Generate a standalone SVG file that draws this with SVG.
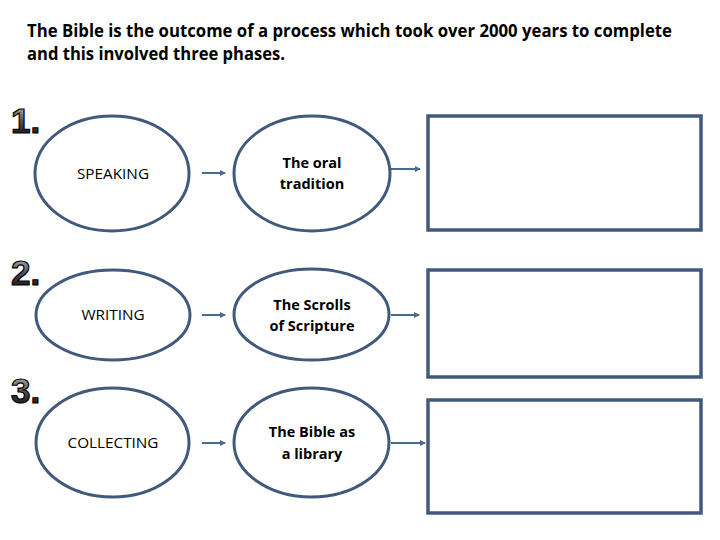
<svg xmlns="http://www.w3.org/2000/svg" width="720" height="540" viewBox="0 0 720 540">
<style>
.title{font-family:"Open Sans","Liberation Sans",sans-serif;font-weight:bold;font-size:17px;fill:#000}
.lbl{font-family:"Open Sans","Liberation Sans",sans-serif;font-size:15.3px;fill:#000;text-anchor:middle}
.lblb{font-family:"Open Sans","Liberation Sans",sans-serif;font-weight:bold;font-size:14.5px;fill:#000;text-anchor:middle}
.num{font-family:"Liberation Sans",Arial,sans-serif;font-weight:bold;font-size:35px;fill:url(#g);stroke:#000;stroke-width:1.2}
.node{fill:#fff;stroke:#41597c;stroke-width:3}
.box{fill:#fff;stroke:#41597c;stroke-width:3.5}
.conn{stroke:#4a6a94;stroke-width:2;fill:none;marker-end:url(#ah)}
</style>
<defs>
<linearGradient id="g" x1="0" y1="0" x2="0" y2="1">
<stop offset="0" stop-color="#d0d0d0"/>
<stop offset="0.5" stop-color="#555555"/>
<stop offset="1" stop-color="#000000"/>
</linearGradient>
<marker id="ah" markerWidth="6" markerHeight="6" refX="5" refY="3" orient="auto" markerUnits="userSpaceOnUse">
<path d="M0,0 L6,3 L0,6 Z" fill="#4a6a94"/>
</marker>
</defs>
<rect width="720" height="540" fill="#fff"/>
<g id="title">
<text class="title" x="27" y="37" textLength="645" lengthAdjust="spacingAndGlyphs">The Bible is the outcome of a process which took over 2000 years to complete</text>
<text class="title" x="27" y="60" textLength="258" lengthAdjust="spacingAndGlyphs">and this involved three phases.</text>
</g>
<g id="numbers">
<text class="num" x="11" y="133">1.</text>
<text class="num" x="11" y="285">2.</text>
<text class="num" x="11" y="403">3.</text>
</g>
<g id="connectors">
<line class="conn" x1="202" y1="173" x2="225" y2="173"/>
<line class="conn" x1="391" y1="169" x2="420" y2="169"/>
<line class="conn" x1="202" y1="315" x2="225" y2="315"/>
<line class="conn" x1="391" y1="315" x2="419" y2="315"/>
<line class="conn" x1="202" y1="443" x2="225" y2="443"/>
<line class="conn" x1="391" y1="443" x2="425" y2="443"/>
</g>
<g id="speaking"><ellipse class="node" cx="112" cy="173.5" rx="77" ry="57.5"/><text class="lbl" x="113" y="179">SPEAKING</text></g>
<g id="oral"><ellipse class="node" cx="312" cy="173.5" rx="78" ry="57.5"/><text class="lblb" x="312" y="168">The oral</text><text class="lblb" x="312" y="189">tradition</text></g>
<g id="box1"><rect class="box" x="428" y="116" width="273" height="114"/></g>
<g id="writing"><ellipse class="node" cx="113" cy="315" rx="77" ry="45"/><text class="lbl" x="113" y="320">WRITING</text></g>
<g id="scrolls"><ellipse class="node" cx="311.5" cy="314.5" rx="77.5" ry="45.5"/><text class="lblb" x="312" y="310">The Scrolls</text><text class="lblb" x="312" y="331">of Scripture</text></g>
<g id="box2"><rect class="box" x="428" y="270" width="273" height="107"/></g>
<g id="collecting"><ellipse class="node" cx="112.5" cy="442.5" rx="76.5" ry="54.5"/><text class="lbl" x="113" y="448">COLLECTING</text></g>
<g id="library"><ellipse class="node" cx="311.5" cy="442.5" rx="77.5" ry="54.5"/><text class="lblb" x="312" y="437">The Bible as</text><text class="lblb" x="312" y="459">a library</text></g>
<g id="box3"><rect class="box" x="428" y="400" width="273" height="113"/></g>
</svg>
